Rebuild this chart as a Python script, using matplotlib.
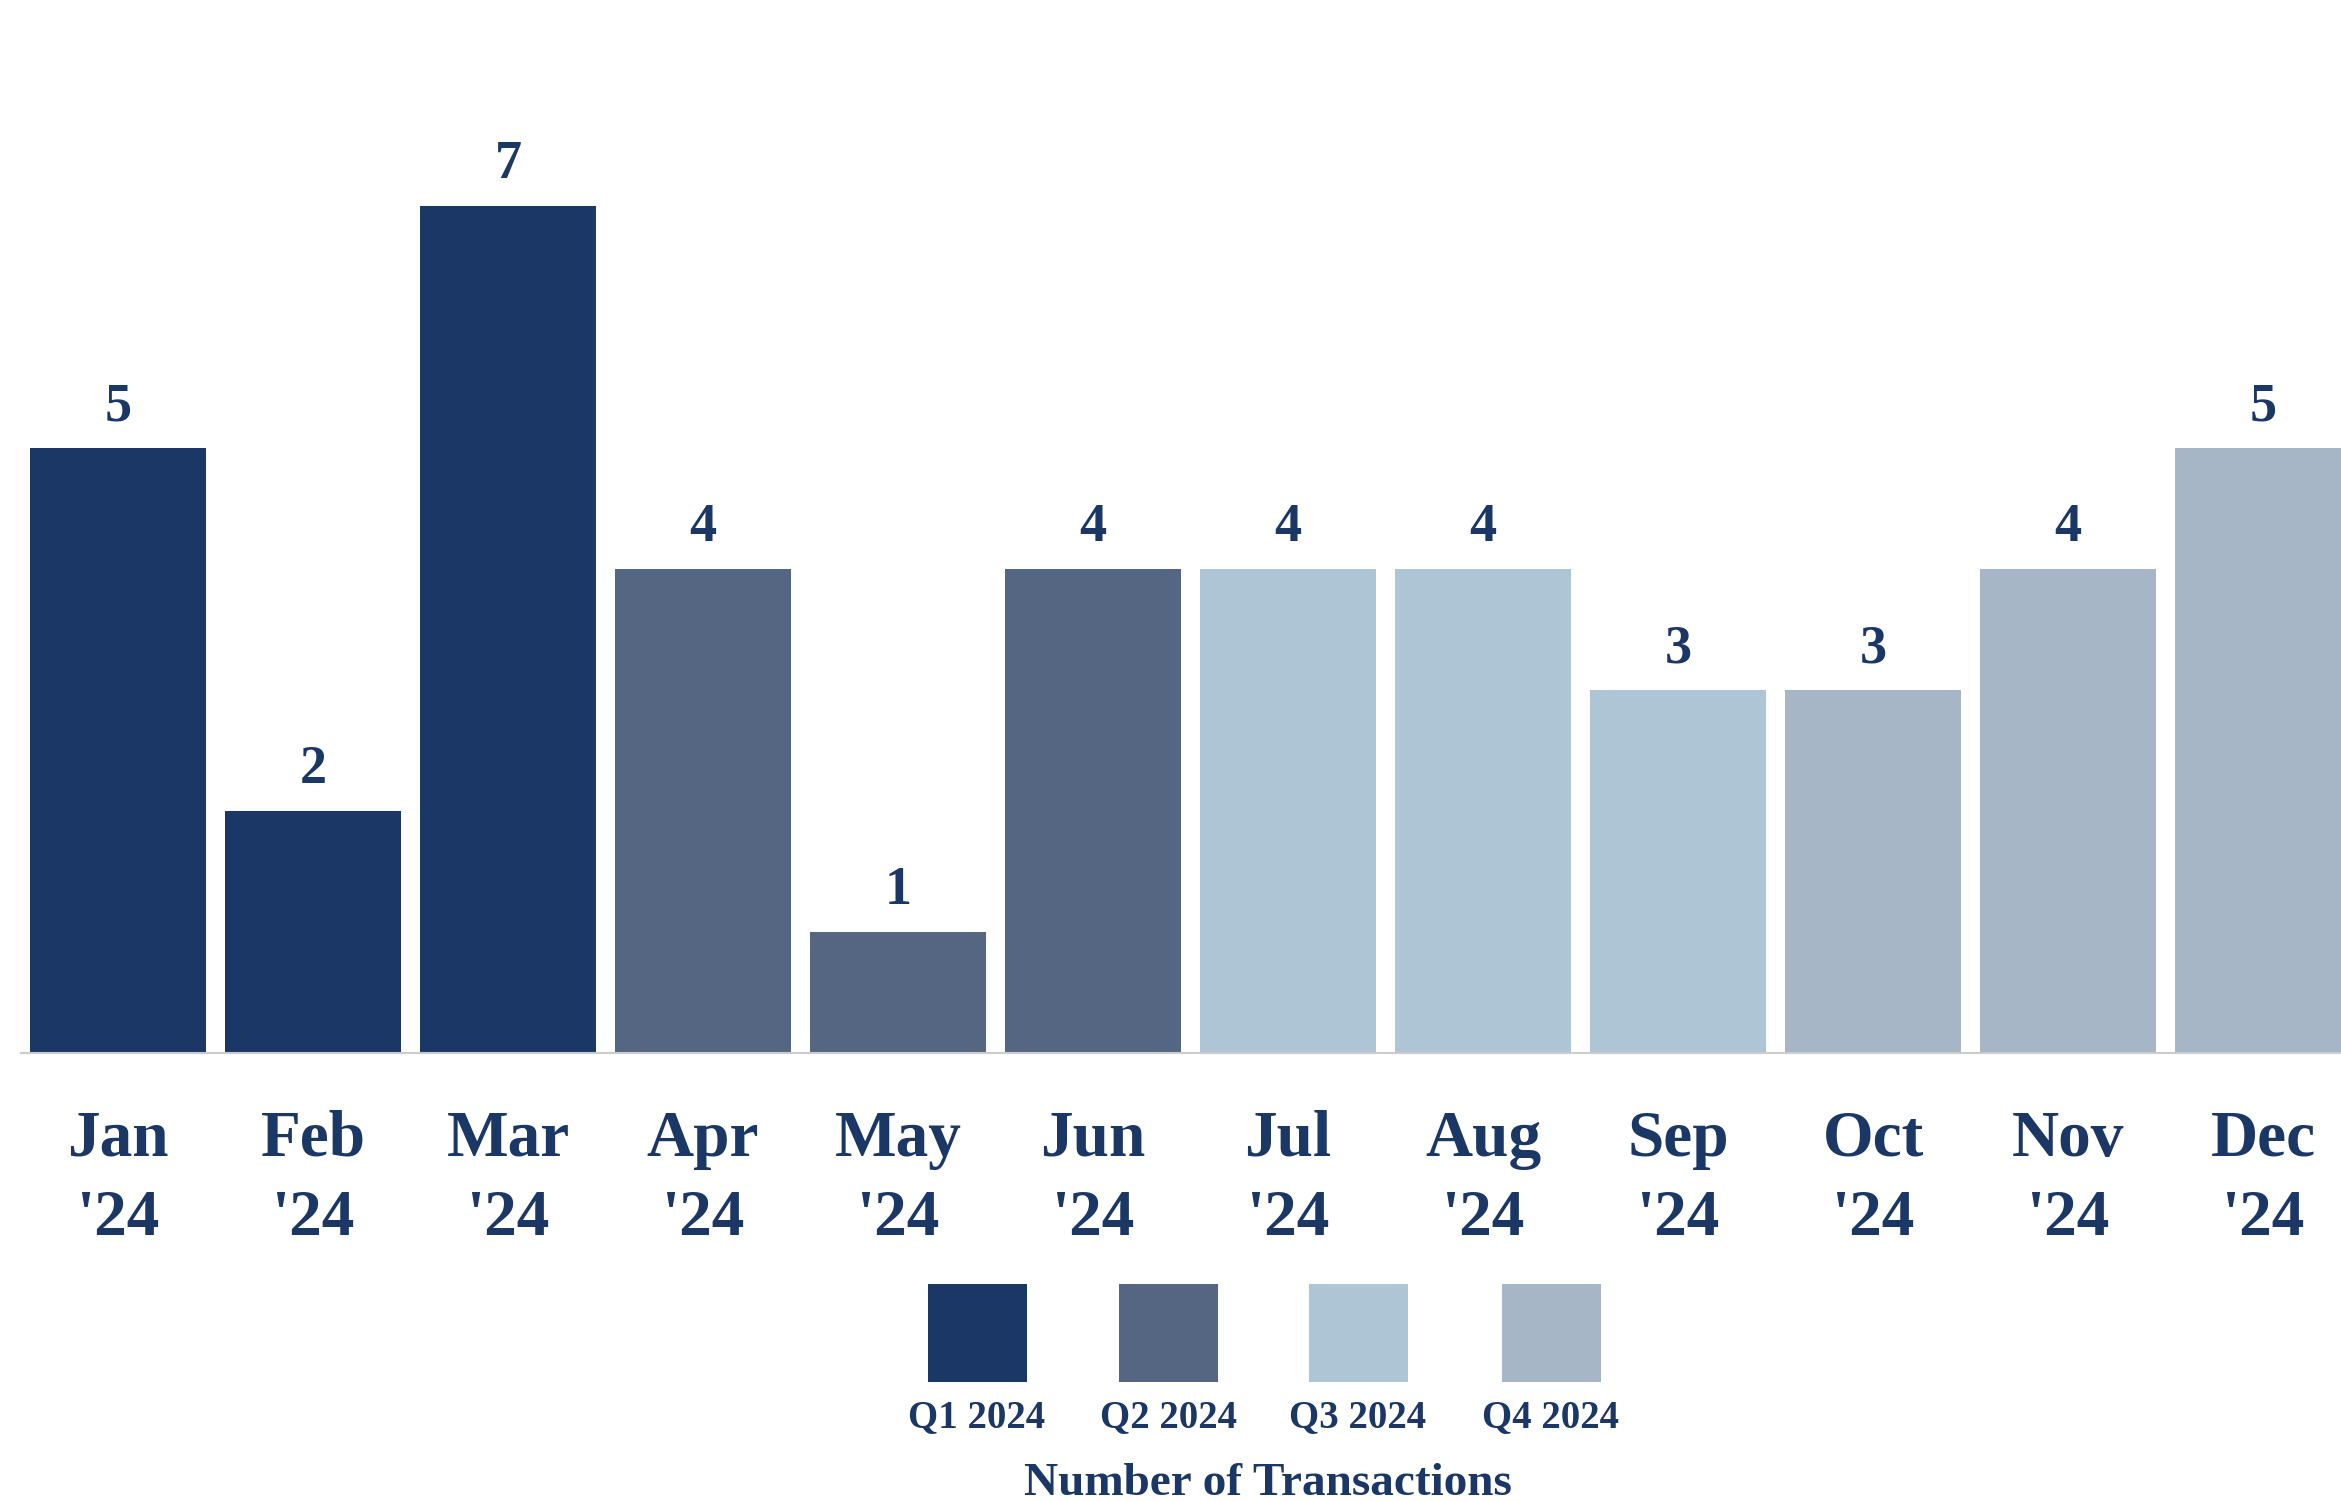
import matplotlib
matplotlib.use('Agg')
import matplotlib.pyplot as plt
from matplotlib.patches import Rectangle

plt.rcParams['font.family'] = ['Liberation Serif', 'DejaVu Serif']

# data
months = ['Jan', 'Feb', 'Mar', 'Apr', 'May', 'Jun',
          'Jul', 'Aug', 'Sep', 'Oct', 'Nov', 'Dec']
year_label = "'24"
transactions = [5, 2, 7, 4, 1, 4, 4, 4, 3, 3, 4, 5]
quarter_of_month = [0, 0, 0, 1, 1, 1, 2, 2, 2, 3, 3, 3]
quarters = ['Q1 2024', 'Q2 2024', 'Q3 2024', 'Q4 2024']
quarter_colors = ['#1b3766', '#546681', '#aec5d5', '#a6b6c6']
legend_title = 'Number of Transactions'

text_color = '#1b3766'
W, H = 2341, 1501

fig = plt.figure(figsize=(W / 100, H / 100), dpi=100)
fig.patch.set_facecolor('white')

# axes: baseline at y=1053px, x range -0.5..11.5 (spills a bit past right edge)
ax = fig.add_axes([20.5 / W, (H - 1053) / H, 2340 / W, 1053 / H])
ax.set_facecolor('white')

x = list(range(len(months)))
colors = [quarter_colors[q] for q in quarter_of_month]
ax.bar(x, transactions, width=0.9, color=colors, zorder=2)

for xi, v in zip(x, transactions):
    ax.annotate(str(v), xy=(xi, v), xytext=(0, 20), textcoords='offset points',
                ha='center', va='baseline', fontsize=39, fontweight='bold',
                color=text_color)

ax.set_xlim(-0.5, 11.5)
ax.set_ylim(0, 8.70)
ax.set_yticks([])
ax.set_xticks(x)
ax.set_xticklabels([f'{m}\n{year_label}' for m in months], fontsize=47,
                   fontweight='bold', color=text_color, linespacing=1.42)
ax.tick_params(axis='x', length=0, pad=41)

for side in ['left', 'top', 'right']:
    ax.spines[side].set_visible(False)
ax.spines['bottom'].set_color('#cccccc')
ax.spines['bottom'].set_linewidth(1.5)

# legend drawn below (swatch with label underneath)
swatch_centers = [977, 1168, 1358, 1551]
sw, sh = 99, 98
sw_top = 1284
for cx, lab, col in zip(swatch_centers, quarters, quarter_colors):
    fig.add_artist(Rectangle(((cx - sw / 2) / W, (H - sw_top - sh) / H), sw / W, sh / H,
                             transform=fig.transFigure, facecolor=col, edgecolor='none'))
    fig.text(cx / W, (H - 1427) / H, lab, ha='center', va='baseline',
             fontsize=28, fontweight='bold', color=text_color)

fig.text(1268 / W, (H - 1495) / H, legend_title, ha='center', va='baseline',
         fontsize=34, fontweight='bold', color=text_color)

fig.savefig('out.png', dpi=100, facecolor=fig.get_facecolor())
plt.close(fig)
